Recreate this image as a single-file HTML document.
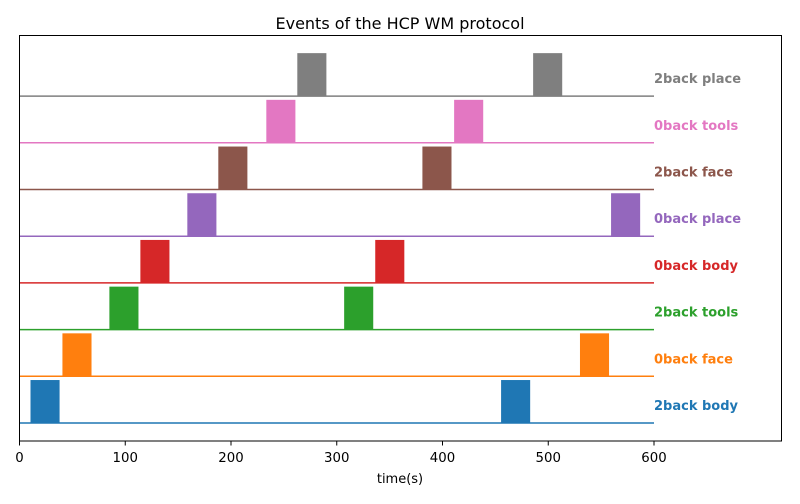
<!DOCTYPE html>
<html><head><meta charset="utf-8"><style>
body{margin:0;background:#fff;font-family:"DejaVu Sans","Liberation Sans",sans-serif}
</style></head><body>
<svg id="c" width="800" height="500" xmlns="http://www.w3.org/2000/svg" font-family="DejaVu Sans, Liberation Sans, sans-serif">
<rect x="0" y="0" width="800" height="500" fill="#fff"/>
<text x="400" y="29" font-size="16" text-anchor="middle" fill="#000">Events of the HCP WM protocol</text>
<g id="marks"></g>
<rect x="19.5" y="35.5" width="762" height="405.5" fill="none" stroke="#000" stroke-width="1"/>
<g id="xaxis"></g>
<text x="400" y="483" font-size="13" text-anchor="middle">time(s)</text>
</svg>
<script>
const conditions = ["2back body","0back face","2back tools","0back body","0back place","2back face","0back tools","2back place"];
const colors = ["#1f77b4","#ff7f0e","#2ca02c","#d62728","#9467bd","#8c564b","#e377c2","#7f7f7f"];
const onsetsA = [10.4, 40.6, 85, 114.3, 158.7, 188, 233.4, 262.7];
const onsetsB = [455.4, 530, 307, 336.4, 559.4, 381, 411, 485.7];
const duration = 27.5;
const xTicks = [0,100,200,300,400,500,600];
const tEnd = 600;

const NS = "http://www.w3.org/2000/svg";
const x = t => 19.5 + t * (654 - 19.5) / 600;
const y = v => 423 - v * 46.7;
const marks = document.getElementById("marks");
function mk(tag, attrs, parent){const e=document.createElementNS(NS,tag);for(const k in attrs)e.setAttribute(k,attrs[k]);parent.appendChild(e);return e;}

conditions.forEach((name,i)=>{
  const g = mk("g",{},marks);
  
  
  const base = y(i), top = y(i + 0.92);
  const line = mk("line",{x1:x(0),x2:x(tEnd),y1:base,y2:base,stroke:colors[i],"stroke-width":1.5},g);
  
  
  [onsetsA[i], onsetsB[i]].forEach(o=>{
    const r = mk("rect",{x:x(o),y:top,width:x(o+duration)-x(o),height:base-top,fill:colors[i]},g);
    
    
  });
  const t = mk("text",{x:654,y:base-13,"font-size":13,"font-weight":"bold",fill:colors[i]},g);
  t.textContent = name;
  
  
});

const xa = document.getElementById("xaxis");
xTicks.forEach(v=>{
  const l = mk("line",{x1:x(v),x2:x(v),y1:441,y2:445.5,stroke:"#000","stroke-width":1},xa);
  
  
  const t = mk("text",{x:x(v),y:462,"font-size":13.3,"text-anchor":"middle"},xa);
  t.textContent = v;
  
  
});
</script>
</body></html>
